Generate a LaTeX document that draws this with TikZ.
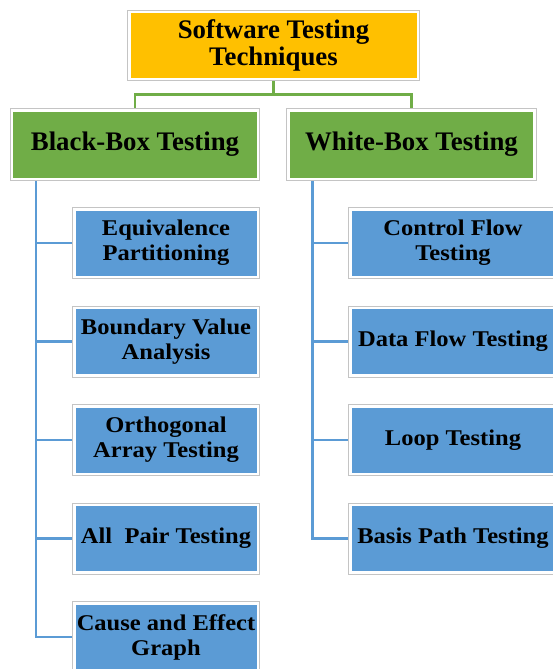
\documentclass[tikz,border=0pt]{standalone}
\usepackage{fontspec}
\setmainfont{Liberation Serif}
\newfontfamily\leaffont[FakeStretch=1.09]{Liberation Serif}
\usetikzlibrary{positioning,backgrounds}
\definecolor{gold}{HTML}{FFC000}
\definecolor{leafgreen}{HTML}{70AD47}
\definecolor{skyblue}{HTML}{5B9BD5}
\definecolor{rim}{HTML}{C4C4C4}
\tikzset{
  framebox/.style={
    rectangle, fill=#1, draw=white, line width=2.5pt,
    preaction={draw=rim, line width=4.5pt},
    outer sep=0pt, inner sep=2pt, align=center, text=black
  },
  framebox/.default=skyblue,
  titlebox/.style={
    framebox=gold, minimum width=288.5pt, minimum height=66.5pt,
    font=\fontsize{26.8}{27.5}\selectfont\bfseries
  },
  kindbox/.style={
    framebox=leafgreen, minimum width=246pt, minimum height=68.5pt,
    font=\fontsize{26.8}{27.5}\selectfont\bfseries
  },
  leafbox/.style={
    framebox=skyblue, minimum width=#1, minimum height=67.5pt,
    font=\leaffont\fontsize{22.5}{25}\selectfont\bfseries
  },
  leafbox/.default=183.5pt,
  branch/.style={draw=leafgreen, line width=2.6pt},
  twig/.style={draw=skyblue, line width=2.5pt},
}
\begin{document}
\begin{tikzpicture}[x=1pt, y=-1pt]
\path[use as bounding box, clip] (0,0) rectangle (553,669);
% root and the two kinds
\node[titlebox] (tech) at (273.5,45.5) {Software Testing\\Techniques};
\node[kindbox] (black) at (135,144.5) {Black-Box Testing};
\node[kindbox] (white) at (411.5,144.5) {White-Box Testing};

% black-box leaves
\node[leafbox] (eqp) at (166,243) {Equivalence\\Partitioning};
\node[leafbox, below=31pt of eqp] (bva) {Boundary Value\\Analysis};
\node[leafbox, below=31pt of bva] (oat) {Orthogonal\\Array Testing};
\node[leafbox, below=31pt of oat] (apt) {All~ Pair Testing};
\node[leafbox, below=31pt of apt] (ceg) {Cause and Effect\\Graph};

% white-box leaves
\node[leafbox=205.5pt] (cft) at (453,243) {Control Flow\\Testing};
\node[leafbox=205.5pt, below=31pt of cft] (dft) {Data Flow Testing};
\node[leafbox=205.5pt, below=31pt of dft] (lpt) {Loop Testing};
\node[leafbox=205.5pt, below=31pt of lpt] (bpt) {Basis Path Testing};

\begin{scope}[on background layer]
\draw[branch] (tech.south) -- ++(0,16) -| (black.north);
\draw[branch] (tech.south) -- ++(0,16) -| (white.north);
\foreach \leaf in {eqp,bva,oat,apt,ceg}
  \draw[twig] ([xshift=23.75pt]black.south west) |- (\leaf.west);
\foreach \leaf in {cft,dft,lpt,bpt}
  \draw[twig] ([xshift=23.75pt]white.south west) |- (\leaf.west);
\end{scope}
\end{tikzpicture}
\end{document}
